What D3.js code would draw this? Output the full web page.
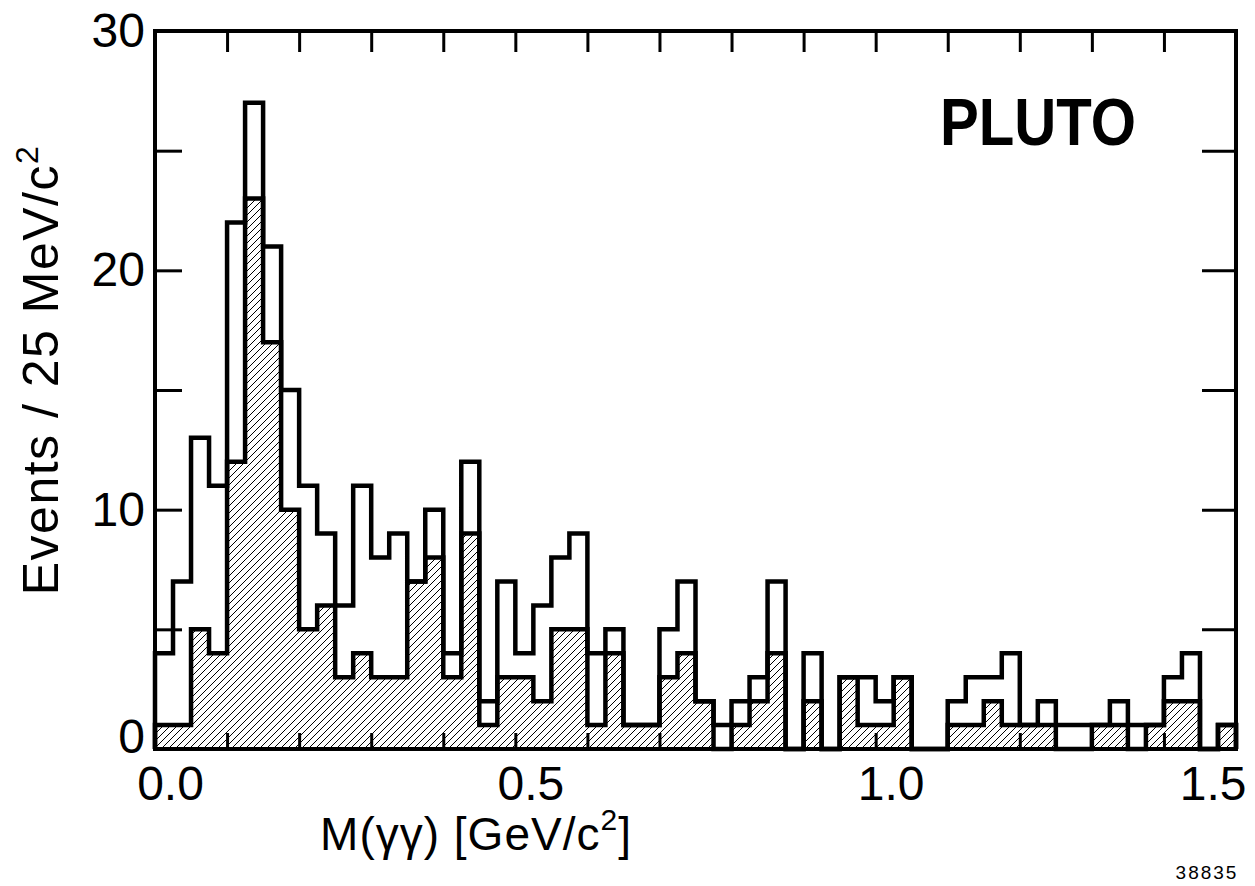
<!DOCTYPE html>
<html>
<head>
<meta charset="utf-8">
<script src="https://cdn.jsdelivr.net/npm/d3@7"></script>
<style>
  html, body { margin: 0; padding: 0; background: #fff; }
  svg { display: block; }
  text { font-family: "Liberation Sans", Arial, sans-serif; fill: #000; }
</style>
</head>
<body>
<svg id="chart" width="1255" height="886"></svg>
<script>
// ---- data: M(gamma gamma) histogram, 25 MeV bins from 0.0 to 1.5 GeV ----
const binStart = 0.0;
const binWidth = 0.025;
const totalCounts = [
  4, 7, 13, 11, 22, 27, 21, 15, 11, 9,
  6, 11, 8, 9, 7, 10, 4, 12, 2, 7,
  4, 6, 8, 9, 4, 5, 1, 1, 5, 7,
  2, 1, 2, 3, 7, 0, 4, 0, 3, 3,
  2, 3, 0, 0, 2, 3, 3, 4, 1, 2,
  1, 1, 1, 2, 1, 1, 3, 4, 0, 1
];
const hatchedCounts = [
  1, 1, 5, 4, 12, 23, 17, 10, 5, 6,
  3, 4, 3, 3, 7, 8, 3, 9, 1, 3,
  3, 2, 5, 5, 1, 4, 1, 1, 3, 4,
  2, 0, 1, 2, 4, 0, 2, 0, 3, 1,
  1, 3, 0, 0, 1, 1, 2, 1, 1, 1,
  0, 0, 1, 1, 0, 1, 2, 2, 0, 1
];
const xTicks = [0.1, 0.2, 0.3, 0.4, 0.5, 0.6, 0.7, 0.8, 0.9, 1.0, 1.1, 1.2, 1.3, 1.4];
const xLabels = [0.0, 0.5, 1.0, 1.5];
const yTicks = [5, 10, 15, 20, 25];
const yLabels = [0, 10, 20, 30];
const xTitle = "M(γγ) [GeV/c";
const yTitle = "Events / 25 MeV/c";
const plotLabel = "PLUTO";
const figNumber = "38835";

// ---- layout ----
const svg = d3.select("#chart");
const mLeft = 155, mRight = 1236, mTop = 31, mBottom = 749;
const x = d3.scaleLinear().domain([0, 1.5]).range([mLeft, mRight]);
const y = d3.scaleLinear().domain([0, 30]).range([mBottom, mTop]);

// hatching pattern
const defs = svg.append("defs");
const pat = defs.append("pattern")
  .attr("id", "hatch").attr("patternUnits", "userSpaceOnUse")
  .attr("width", 7).attr("height", 7);
pat.append("path")
  .attr("d", "M0,7 L7,0 M-1,1 L1,-1 M6,8 L8,6")
  .attr("stroke", "#000").attr("stroke-width", 1.0).attr("fill", "none");

function stepPoints(counts) {
  const pts = [[binStart, 0]];
  counts.forEach((c, i) => pts.push([binStart + i * binWidth, c]));
  const lastX = binStart + counts.length * binWidth;
  pts.push([lastX, counts[counts.length - 1]]);
  pts.push([lastX, 0]);
  return pts;
}

const line = d3.line().x(d => x(d[0])).y(d => y(d[1])).curve(d3.curveStepAfter);
const area = d3.area().x(d => x(d[0])).y0(y(0)).y1(d => y(d[1])).curve(d3.curveStepAfter);

const hatchPts = stepPoints(hatchedCounts);
const totalPts = stepPoints(totalCounts);

svg.append("path").attr("d", area(hatchPts)).attr("fill", "url(#hatch)").attr("stroke", "none");
svg.append("path").attr("d", line(hatchPts)).attr("fill", "none")
  .attr("stroke", "#000").attr("stroke-width", 4.5).attr("stroke-linejoin", "miter");
svg.append("path").attr("d", line(totalPts)).attr("fill", "none")
  .attr("stroke", "#000").attr("stroke-width", 4.5).attr("stroke-linejoin", "miter");

// ---- axes ----
function styleAxis(g) {
  g.select(".domain").remove();
  g.selectAll(".tick line").attr("stroke", "#000").attr("stroke-width", 3);
}

svg.append("g").attr("transform", `translate(0,${mBottom})`)
  .call(d3.axisBottom(x).tickValues(xTicks).tickSize(-16).tickFormat(""))
  .call(styleAxis);
svg.append("g").attr("transform", `translate(0,${mTop})`)
  .call(d3.axisTop(x).tickValues(xTicks).tickSize(-21).tickFormat(""))
  .call(styleAxis);
svg.append("g").attr("transform", `translate(${mLeft},0)`)
  .call(d3.axisLeft(y).tickValues(yTicks).tickSize(-27).tickFormat(""))
  .call(styleAxis);
svg.append("g").attr("transform", `translate(${mRight},0)`)
  .call(d3.axisRight(y).tickValues(yTicks).tickSize(-34).tickFormat(""))
  .call(styleAxis);

// labels
const lastX = xLabels[xLabels.length - 1];
const xl = svg.append("g").attr("transform", `translate(0,${mBottom})`)
  .call(d3.axisBottom(x).tickValues(xLabels).tickSize(0).tickPadding(17).tickFormat(d3.format(".1f")));
xl.select(".domain").remove();
xl.selectAll("text")
  .attr("font-size", 48).attr("font-family", "Liberation Sans, Arial, sans-serif").attr("fill", "#000")
  .attr("text-anchor", d => d === lastX ? "end" : "middle")
  .attr("dx", d => d === lastX ? 10 : 15);

const yl = svg.append("g").attr("transform", `translate(${mLeft},0)`)
  .call(d3.axisLeft(y).tickValues(yLabels).tickSize(0).tickPadding(10).tickFormat(d3.format("d")));
yl.select(".domain").remove();
yl.selectAll("text")
  .attr("font-size", 48).attr("font-family", "Liberation Sans, Arial, sans-serif").attr("fill", "#000")
  .attr("y", d => d === 0 ? -12 : 0);

// frame
svg.append("rect").attr("x", mLeft).attr("y", mTop)
  .attr("width", mRight - mLeft).attr("height", mBottom - mTop)
  .attr("fill", "none").attr("stroke", "#000").attr("stroke-width", 4);

// titles
const xt = svg.append("text").attr("x", 476).attr("y", 850)
  .attr("text-anchor", "middle").attr("font-size", 46).attr("letter-spacing", 1);
xt.append("tspan").text(xTitle);
xt.append("tspan").attr("dy", -20).attr("font-size", 30).text("2");
xt.append("tspan").attr("dy", 20).text("]");

const yt = svg.append("text").attr("transform", "translate(58,370) rotate(-90)")
  .attr("text-anchor", "middle").attr("font-size", 50).attr("letter-spacing", 1.5);
yt.append("tspan").text(yTitle);
yt.append("tspan").attr("dy", -20).attr("font-size", 32).text("2");

svg.append("text").attr("x", 1038).attr("y", 145).attr("text-anchor", "middle")
  .attr("font-size", 67).attr("font-weight", "bold")
  .attr("textLength", 196).attr("lengthAdjust", "spacingAndGlyphs").text(plotLabel);

svg.append("text").attr("x", 1207).attr("y", 879).attr("text-anchor", "middle")
  .attr("font-size", 19).attr("letter-spacing", 2).text(figNumber);
</script>
</body>
</html>
